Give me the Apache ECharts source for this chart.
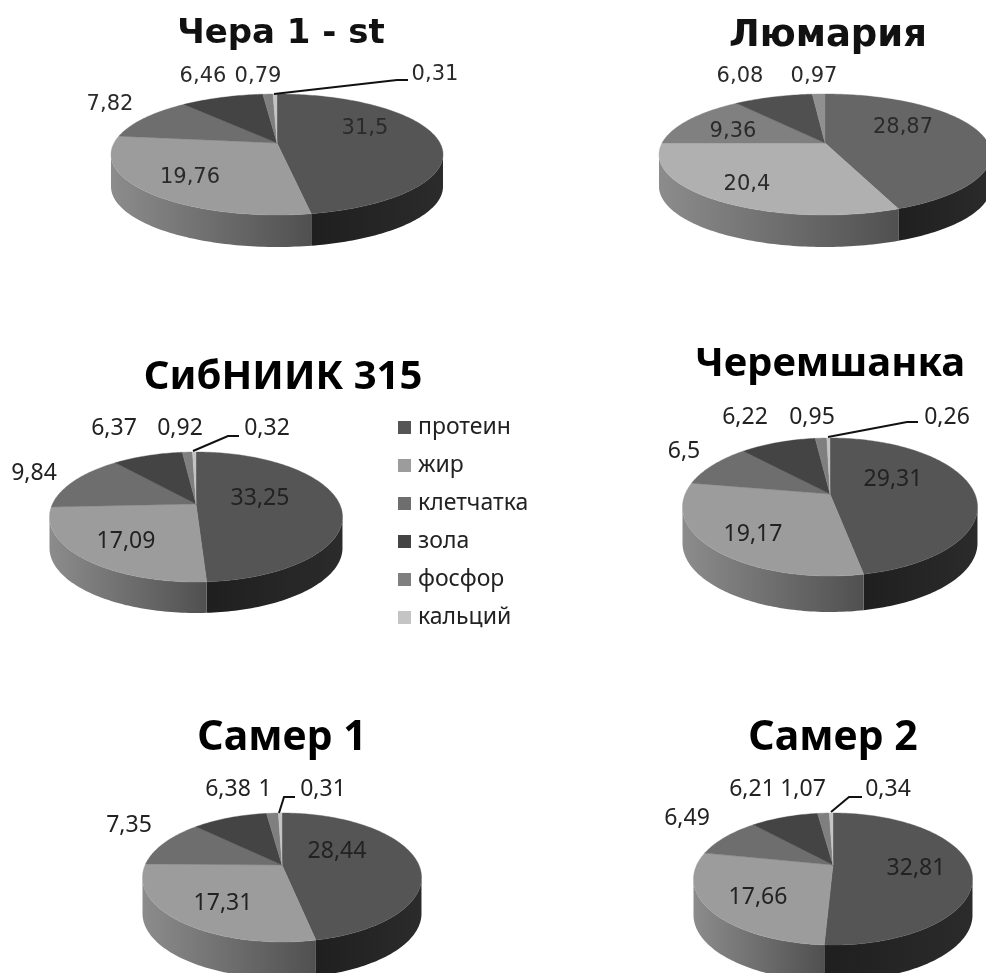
<!DOCTYPE html>
<html><head><meta charset="utf-8">
<style>html,body{margin:0;padding:0;background:#fff}#c{width:986px;height:973px}</style>
<script src="https://cdn.jsdelivr.net/npm/echarts@6/dist/echarts.min.js"></script>
</head><body><div id="c"></div>
<script>
// ---- data ----
const varieties = ['Чера 1 - st','Люмария','СибНИИК 315','Черемшанка','Самер 1','Самер 2'];
const categories = ['протеин','жир','клетчатка','зола','фосфор','кальций'];
const protein  = [31.5, 28.87, 33.25, 29.31, 28.44, 32.81];
const fat      = [19.76, 20.4, 17.09, 19.17, 17.31, 17.66];
const fibre    = [7.82, 9.36, 9.84, 6.5, 7.35, 6.49];
const ash      = [6.46, 6.08, 6.37, 6.22, 6.38, 6.21];
const phosphor = [0.79, 0.97, 0.92, 0.95, 1, 1.07];
const calcium  = [0.31, 0, 0.32, 0.26, 0.31, 0.34];
const seriesValues = [protein, fat, fibre, ash, phosphor, calcium];

// ---- layout and styling ----
const PIES = [
 {ax:277,ay:143,top:94,front:215,left:111,right:443,wall:32},
 {ax:825,ay:143,top:94,front:215,left:659,right:991,wall:32},
 {ax:196,ay:504,top:452,front:582,left:49,right:342,wall:31},
 {ax:830,ay:494,top:438,front:576,left:683,right:978,wall:36},
 {ax:282,ay:865,top:813,front:942,left:143,right:422,wall:36},
 {ax:833,ay:865,top:813,front:945,left:694,right:973,wall:36}
];
const TITLES = [
 {x:276,y:29,size:34,font:'DejaVu Sans',color:'#111'},
 {x:823,y:31,size:37,font:'DejaVu Sans',color:'#111'},
 {x:278,y:373,size:40,font:'Noto Sans',color:'#000'},
 {x:825,y:360,size:40,font:'Noto Sans',color:'#000'},
 {x:277,y:733,size:41,font:'Noto Sans',color:'#000'},
 {x:828,y:733,size:41,font:'Noto Sans',color:'#000'}
];
// label centre for [chart][category]
const LABELS = [
 [[365,129],[190,178],[110,105],[203,77],[258,77],[435,75]],
 [[903,128],[747,185],[733,132],[740,77],[814,77],null],
 [[260,498],[126,541],[34,473],[114,428],[180,428],[267,428]],
 [[893,479],[753,534],[684,451],[745,417],[812,417],[947,417]],
 [[337,851],[223,903],[129,825],[228,789],[265,789],[323,789]],
 [[916,868],[758,897],[687,818],[752,789],[803,789],[888,789]]
];
const LEADERS = [
 [[274,94],[397,80],[408,80]],
 null,
 [[193,451],[228,436],[239,436]],
 [[828,437],[907,422],[918,422]],
 [[279,813],[284,797],[295,797]],
 [[831,812],[849,797],[862,797]]
];
const FACE = ['#555555','#9c9c9c','#6e6e6e','#444444','#7f7f7f','#c4c4c4'];
const FACE_LIGHT = ['#666666','#b0b0b0','#808080','#505050','#909090','#c8c8c8'];
const WALL_L = ['#1f1f1f','#8c8c8c','#5a5a5a','#333333','#666666','#999999'];
const WALL_R = ['#2b2b2b','#505050','#5a5a5a','#333333','#666666','#999999'];

function project(p, theta){
  const a = p.ay - p.top, b = p.front - p.ay;
  const k = (b - a) / (b + a), B = a * (1 + k);
  const R = (p.right - p.left) / 2 * Math.sqrt(1 - k * k);
  const X = Math.sin(theta), u = -Math.cos(theta), d = 1 - k * u;
  return {x: p.ax + R * X / d, y: p.ay + B * u / d, u, k};
}
function renderSlice(catIdx){
  return function(params, api){
    const chart = api.value(0), value = api.value(1);
    if (!(value > 0)) return null;
    const p = PIES[chart];
    let total = 0, before = 0;
    seriesValues.forEach((arr, i) => { total += arr[chart]; if (i < catIdx) before += arr[chart]; });
    const t0 = before / total * 2 * Math.PI, t1 = (before + value) / total * 2 * Math.PI;
    const steps = Math.max(2, Math.ceil((t1 - t0) / 0.02));
    const face = [[p.ax, p.ay]], wallTop = [];
    for (let i = 0; i <= steps; i++){
      const q = project(p, t0 + (t1 - t0) * i / steps);
      face.push([q.x, q.y]);
      if (q.u >= q.k) wallTop.push([q.x, q.y]);
    }
    const pal = chart === 1 ? FACE_LIGHT : FACE;
    const children = [];
    if (wallTop.length > 1){
      const pts = wallTop.concat(wallTop.slice().reverse().map(c => [c[0], c[1] + p.wall]));
      children.push({type:'polygon', shape:{points:pts}, z2:1, style:{
        fill:new echarts.graphic.LinearGradient(0,0,1,0,[{offset:0,color:WALL_L[catIdx]},{offset:1,color:WALL_R[catIdx]}]),
        stroke:null}});
    }
    children.push({type:'polygon', shape:{points:face}, z2:2,
      style:{fill:pal[catIdx], stroke:pal[catIdx], lineWidth:0.4}});
    const lp = LABELS[chart][catIdx];
    if (lp){
      const row1 = chart < 2;
      children.push({type:'text', z2:10, style:{
        x:lp[0], y:lp[1], text:String(value).replace('.',','),
        fill:row1 ? '#2a2a2a' : '#222', fontSize:row1 ? 21 : 23,
        fontFamily:row1 ? 'DejaVu Sans' : 'Noto Sans',
        textAlign:'center', textVerticalAlign:'middle'}});
    }
    if (catIdx === 5 && LEADERS[chart]){
      children.push({type:'polyline', z2:9, shape:{points:LEADERS[chart]},
        style:{stroke:'#111', lineWidth:2, fill:null}});
    }
    return {type:'group', children};
  };
}

const chart = echarts.init(document.getElementById('c'), null, {renderer:'canvas'});
chart.setOption({
  animation:false,
  backgroundColor:'#fff',
  title: varieties.map((t,i) => ({
    text:t, left:TITLES[i].x, top:TITLES[i].y, textAlign:'center', textVerticalAlign:'middle',
    textStyle:{fontFamily:TITLES[i].font, fontWeight:'bold', fontSize:TITLES[i].size, color:TITLES[i].color}
  })),
  legend:{
    orient:'vertical', left:393, top:408, itemWidth:13, itemHeight:13, itemGap:9,
    icon:'rect', data:categories, selectedMode:false,
    textStyle:{fontFamily:'Noto Sans', fontSize:23, color:'#222', padding:[0,0,0,2], lineHeight:29, height:29}
  },
  series: categories.map((name,c) => ({
    type:'custom', name, coordinateSystem:'none', silent:true,
    itemStyle:{color:FACE[c]}, color:FACE[c],
    renderItem:renderSlice(c),
    data:seriesValues[c].map((v,i) => [i,v])
  }))
});
</script></body></html>
